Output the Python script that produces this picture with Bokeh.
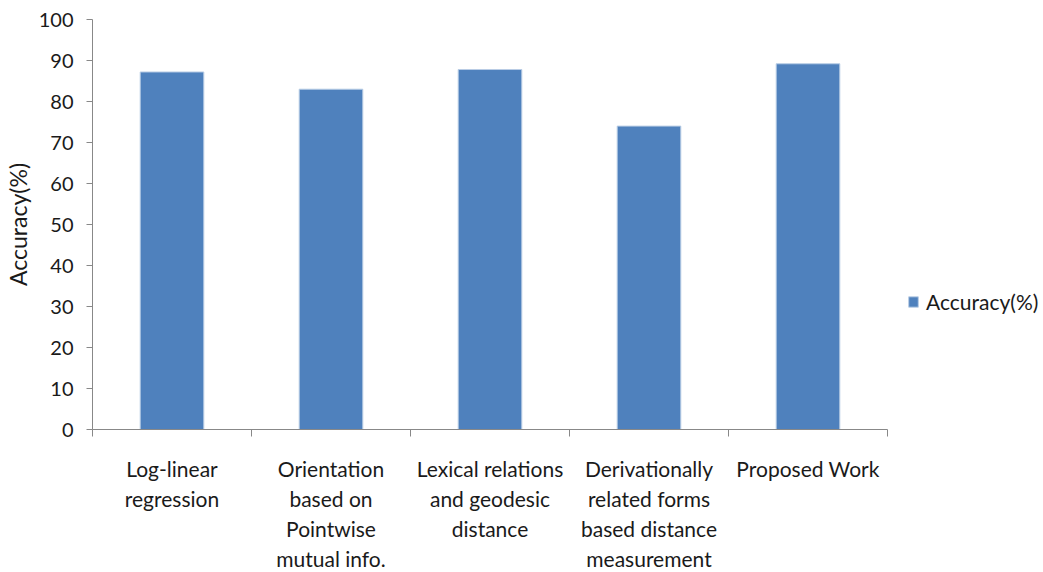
from bokeh.plotting import figure
from bokeh.models import FixedTicker, Range1d, Legend, LegendItem, ColumnDataSource
from bokeh.embed import file_html
from bokeh.resources import INLINE

categories = [
    "Log-linear\nregression",
    "Orientation\nbased on\nPointwise\nmutual info.",
    "Lexical relations\nand geodesic\ndistance",
    "Derivationally\nrelated forms\nbased distance\nmeasurement",
    "Proposed Work",
]
accuracy = [87.2, 83.0, 87.8, 74.0, 89.2]
y_ticks = [0, 10, 20, 30, 40, 50, 60, 70, 80, 90, 100]
series_name = "Accuracy(%)"

FONT = "Lato"
TXT = "#1a1a1a"
AX = "#888888"
BAR = "#4F81BD"

n = len(categories)
centers = [i + 0.5 for i in range(n)]
src = ColumnDataSource(dict(x=centers, top=accuracy))

p = figure(
    frame_width=795, frame_height=410,
    x_range=Range1d(0, n), y_range=Range1d(0, 100),
    output_backend="svg", toolbar_location=None,
    min_border_left=83, min_border_top=19, min_border_bottom=140, min_border_right=10,
)
p.outline_line_color = None
p.xgrid.visible = False
p.ygrid.visible = False
p.background_fill_color = "white"
p.border_fill_color = "white"

r = p.vbar(x="x", top="top", width=0.4, bottom=0, source=src,
           fill_color=BAR, line_color="#B9CDE5", line_width=1)

# x axis
xa = p.xaxis[0]
xa.ticker = FixedTicker(ticks=centers, minor_ticks=list(range(n + 1)))
xa.major_label_overrides = {c: lab for c, lab in zip(centers, categories)}
xa.major_tick_line_color = None
xa.major_tick_out = 0
xa.major_tick_in = 0
xa.minor_tick_out = 7
xa.minor_tick_in = 0
xa.minor_tick_line_color = AX
xa.axis_line_color = AX
xa.major_label_text_font = FONT
xa.major_label_text_font_size = "21px"
xa.major_label_text_color = TXT
xa.major_label_text_line_height = 1.21
xa.major_label_standoff = 19

# y axis
ya = p.yaxis[0]
ya.ticker = FixedTicker(ticks=y_ticks)
ya.minor_tick_line_color = None
ya.major_tick_out = 6
ya.major_tick_in = 0
ya.major_tick_line_color = AX
ya.axis_line_color = AX
ya.major_label_text_font = FONT
ya.major_label_text_font_size = "20px"
ya.major_label_text_color = TXT
ya.major_label_standoff = 13
ya.axis_label = series_name
ya.axis_label_text_font = FONT
ya.axis_label_text_font_size = "23px"
ya.axis_label_text_font_style = "normal"
ya.axis_label_text_color = TXT
ya.axis_label_standoff = 4

legend = Legend(
    items=[LegendItem(label=series_name, renderers=[r])],
    location=(20, 115),
    border_line_color=None, background_fill_alpha=0,
    padding=0, margin=0, glyph_width=12, glyph_height=13, label_standoff=7,
    label_text_font=FONT, label_text_font_size="21px", label_text_color=TXT,
)
p.add_layout(legend, "right")

open("out.html", "w").write(file_html(p, INLINE))
